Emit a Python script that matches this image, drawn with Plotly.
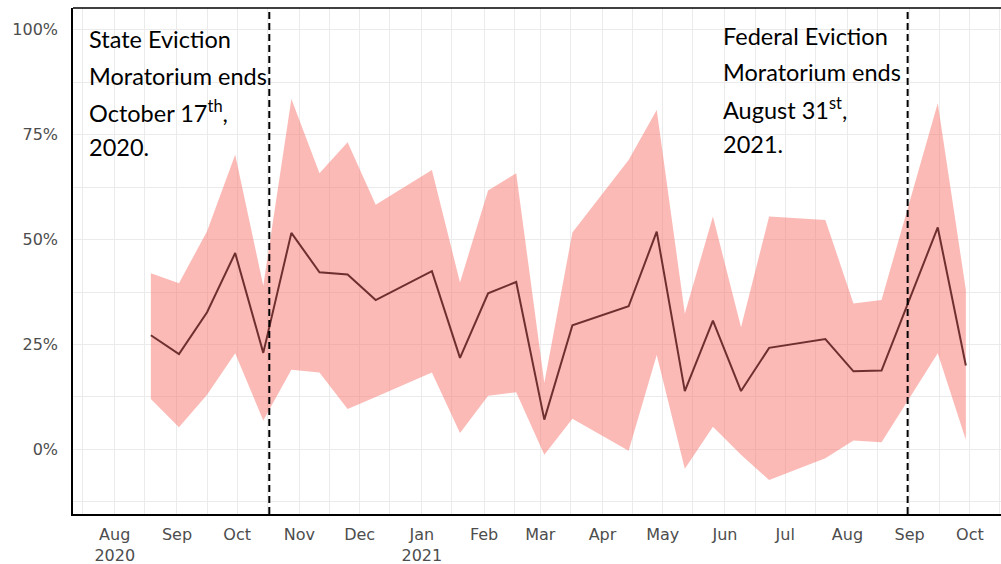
import plotly.graph_objects as go

# ---- data ----
dates = ["2020-08-19", "2020-09-02", "2020-09-16", "2020-09-30", "2020-10-14",
         "2020-10-28", "2020-11-11", "2020-11-25", "2020-12-09", "2021-01-06",
         "2021-01-20", "2021-02-03", "2021-02-17", "2021-03-03", "2021-03-17",
         "2021-04-14", "2021-04-28", "2021-05-12", "2021-05-26", "2021-06-09",
         "2021-06-23", "2021-07-21", "2021-08-04", "2021-08-18", "2021-09-15",
         "2021-09-29"]
estimate = [27.2, 22.7, 32.7, 46.8, 23.0, 51.6, 42.2, 41.7, 35.6, 42.5,
            21.8, 37.2, 39.9, 7.1, 29.6, 34.1, 51.9, 13.9, 30.7, 13.9,
            24.2, 26.3, 18.6, 18.8, 52.9, 20.0]
upper = [42.0, 39.6, 52.0, 70.2, 39.0, 83.5, 65.8, 73.2, 58.3, 66.6,
         39.8, 61.7, 65.8, 15.8, 51.7, 69.0, 80.9, 32.3, 55.5, 29.1,
         55.5, 54.7, 34.8, 35.6, 82.5, 38.0]
lower = [12.0, 5.3, 13.0, 22.9, 6.9, 19.0, 18.3, 9.6, 12.5, 18.3,
         3.9, 12.8, 13.6, -1.3, 7.3, -0.3, 22.5, -4.6, 5.4, -1.3,
         -7.3, -2.1, 2.1, 1.7, 22.9, 2.3]

moratorium_dates = ["2020-10-17", "2021-08-31"]

tick_dates = ["2020-08-01", "2020-09-01", "2020-10-01", "2020-11-01", "2020-12-01",
              "2021-01-01", "2021-02-01", "2021-03-01", "2021-04-01", "2021-05-01",
              "2021-06-01", "2021-07-01", "2021-08-01", "2021-09-01", "2021-10-01"]
tick_labels = ["Aug<br>2020", "Sep", "Oct", "Nov", "Dec", "Jan<br>2021", "Feb", "Mar",
               "Apr", "May", "Jun", "Jul", "Aug", "Sep", "Oct"]
y_ticks = [0, 0.25, 0.5, 0.75, 1.0]
y_labels = ["0%", "25%", "50%", "75%", "100%"]

state_text = ["State Eviction", "Moratorium ends", "October 17<sup>th</sup>,", "2020."]
federal_text = ["Federal Eviction", "Moratorium ends", "August 31<sup>st</sup>,", "2021."]

# ---- figure ----
fig = go.Figure()
fig.add_trace(go.Scatter(x=dates, y=[v / 100 for v in lower], mode="lines",
                         line=dict(width=0), showlegend=False, hoverinfo="skip"))
fig.add_trace(go.Scatter(x=dates, y=[v / 100 for v in upper], mode="lines",
                         line=dict(width=0), fill="tonexty",
                         fillcolor="rgba(248,118,109,0.5)", showlegend=False,
                         hoverinfo="skip"))
fig.add_trace(go.Scatter(x=dates, y=[v / 100 for v in estimate], mode="lines",
                         line=dict(color="#6e2f2f", width=2), showlegend=False))

for d in moratorium_dates:
    fig.add_shape(type="line", xref="x", yref="paper", x0=d, x1=d, y0=0, y1=1,
                  line=dict(color="black", width=2, dash="7px,4px"))

# top border of the panel
fig.add_shape(type="line", xref="paper", yref="paper", x0=0, x1=1, y0=1, y1=1,
              line=dict(color="black", width=1.5))

font_ann = "Lato, 'Open Sans', sans-serif"
font_tick = "'DejaVu Sans', sans-serif"
left_y = [0.938, 0.866, 0.795, 0.726]
right_y = [0.944, 0.873, 0.802, 0.731]
W_PLOT = 934  # plot-area width in px (extends a little past the window edge)
for t, yy in zip(state_text, left_y):
    fig.add_annotation(text=t, xref="paper", yref="paper", x=14 / W_PLOT, y=yy,
                       xanchor="left", yanchor="middle", showarrow=False,
                       font=dict(family=font_ann, size=23.5, color="black"))
for t, yy in zip(federal_text, right_y):
    fig.add_annotation(text=t, xref="paper", yref="paper", x=648 / W_PLOT, y=yy,
                       xanchor="left", yanchor="middle", showarrow=False,
                       font=dict(family=font_ann, size=23.5, color="black"))

fig.update_layout(
    width=73 + W_PLOT, height=564,
    margin=dict(l=73, r=0, t=8, b=50),
    plot_bgcolor="white", paper_bgcolor="white",
    font=dict(family=font_tick, size=16, color="#4d4d4d"),
    xaxis=dict(
        type="date", automargin=False,
        range=["2020-07-11 05:00", "2021-10-19 12:00"],
        tickmode="array", tickvals=tick_dates, ticktext=tick_labels,
        showgrid=True, gridcolor="#ebebeb", gridwidth=1,
        minor=dict(tick0="2020-07-16", dtick="M1", showgrid=True,
                   gridcolor="#ebebeb", gridwidth=1),
        showline=True, linecolor="black", linewidth=1.5, mirror=False,
        ticks="", zeroline=False, ticklabelstandoff=5,
        tickfont=dict(family=font_tick, size=16, color="#4d4d4d"),
    ),
    yaxis=dict(
        automargin=False,
        range=[-0.154, 1.052],
        tickmode="array", tickvals=y_ticks, ticktext=y_labels,
        showgrid=True, gridcolor="#ebebeb", gridwidth=1,
        minor=dict(tick0=0, dtick=0.125, showgrid=True,
                   gridcolor="#ebebeb", gridwidth=1),
        showline=True, linecolor="black", linewidth=1.5, mirror=False,
        ticks="", zeroline=False, ticklabelstandoff=10,
        tickfont=dict(family=font_tick, size=16, color="#4d4d4d"),
    ),
)

fig.write_html("out.html", config={"displayModeBar": False},
               post_script="document.body.style.margin='0';document.body.style.overflow='hidden';")
